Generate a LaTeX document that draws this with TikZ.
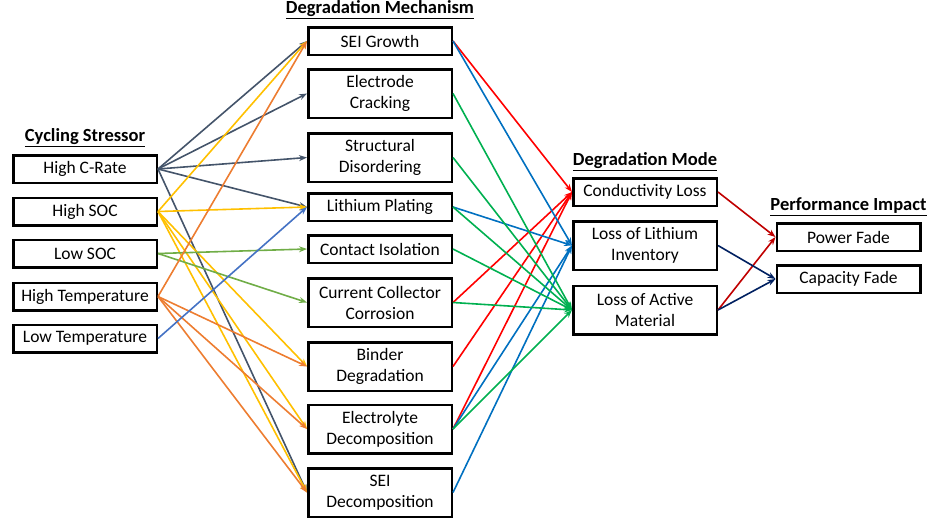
\documentclass[tikz,border=0pt]{standalone}
\usepackage{fontspec}
\setmainfont{Carlito}
\usetikzlibrary{arrows.meta,positioning}
\definecolor{crate}{HTML}{44546A}
\definecolor{hsocc}{HTML}{FFC000}
\definecolor{lsocc}{HTML}{70AD47}
\definecolor{htc}{HTML}{ED7D31}
\definecolor{ltc}{HTML}{4472C4}
\definecolor{clred}{HTML}{FF0000}
\definecolor{llblue}{HTML}{0070C0}
\definecolor{lagreen}{HTML}{00B050}
\definecolor{pfred}{HTML}{C00000}
\definecolor{cfnavy}{HTML}{002060}

\begin{document}
\begin{tikzpicture}[x=1pt,y=-1pt,
  box/.style={draw=black,line width=2.5pt,minimum width=143.5pt,minimum height=27.5pt,
    align=center,inner sep=1pt,font=\fontsize{17.5}{21}\selectfont},
  tallbox/.style={box,minimum height=48.5pt},
  head/.style={inner sep=1pt,font=\fontsize{18.5}{21}\selectfont\bfseries},
  link/.style={line width=1.6pt,-{Stealth[length=8pt,width=6pt]}}]
\useasboundingbox (0,0) rectangle (930,523);

% cycling stressors
\node [box] (hcr) at (85,169) {High C-Rate};
\node [box] (hsoc) at (85,211.5) {High SOC};
\node [box] (lsoc) at (85,253.5) {Low SOC};
\node [box] (htemp) at (85,296.5) {High Temperature};
\node [box] (ltemp) at (85,338.5) {Low Temperature};
\node [head, above=6pt of hcr] (tstress) {\underline{Cycling Stressor}};

% degradation mechanisms
\node [box] (sgr) at (380,41) {SEI Growth};
\node [tallbox] (ecr) at (380,93.5) {Electrode\\Cracking};
\node [tallbox] (sdo) at (380,157.5) {Structural\\Disordering};
\node [box] (lpl) at (380,207) {Lithium Plating};
\node [box] (cis) at (380,249) {Contact Isolation};
\node [tallbox] (ccc) at (380,302.5) {Current Collector\\Corrosion};
\node [tallbox] (bdg) at (380,366.5) {Binder\\Degradation};
\node [tallbox] (edc) at (380,429) {Electrolyte\\Decomposition};
\node [tallbox] (sdc) at (380,492.5) {SEI\\Decomposition};
\node [head, above=6pt of sgr] (tmech) {\underline{Degradation Mechanism}};

% degradation modes
\node [box] (cnd) at (645,192) {Conductivity Loss};
\node [tallbox] (lli) at (645,245.5) {Loss of Lithium\\Inventory};
\node [tallbox] (lam) at (645,310) {Loss of Active\\Material};
\node [head, above=5pt of cnd] (tmode) {\underline{Degradation Mode}};

% performance impact
\node [box] (pwr) at (848.5,237) {Power Fade};
\node [box] (cap) at (848.5,279) {Capacity Fade};
\node [head, above=5pt of pwr] (timp) {\underline{Performance Impact}};

\foreach \m in {sgr,ecr,sdo,lpl,sdc}
  \draw [link, crate] (hcr.east) -- (\m.west);
\foreach \m in {sgr,lpl,bdg,edc,sdc}
  \draw [link, hsocc] (hsoc.east) -- (\m.west);
\foreach \m in {cis,ccc}
  \draw [link, lsocc] (lsoc.east) -- (\m.west);
\foreach \m in {sgr,bdg,edc,sdc}
  \draw [link, htc] (htemp.east) -- (\m.west);
\draw [link, ltc] (ltemp.east) -- (lpl.west);

\foreach \m in {sgr,ccc,bdg,edc}
  \draw [link, clred] (\m.east) -- (cnd.west);
\foreach \m in {sgr,lpl,edc,sdc}
  \draw [link, llblue] (\m.east) -- (lli.west);
\foreach \m in {ecr,sdo,lpl,cis,ccc,edc}
  \draw [link, lagreen] (\m.east) -- (lam.west);

\foreach \m in {cnd,lam}
  \draw [link, pfred] (\m.east) -- (pwr.west);
\foreach \m in {lli,lam}
  \draw [link, cfnavy] (\m.east) -- (cap.west);
\end{tikzpicture}
\end{document}
